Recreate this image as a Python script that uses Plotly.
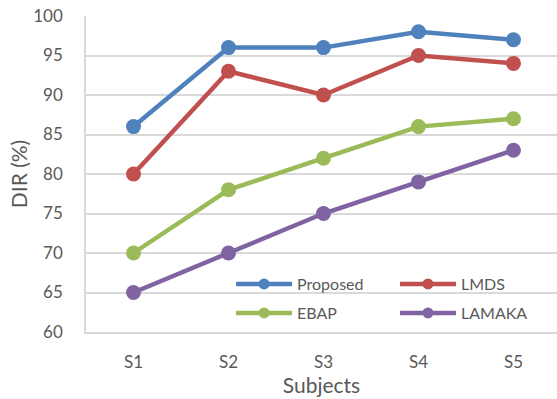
import plotly.graph_objects as go

subjects = ["S1", "S2", "S3", "S4", "S5"]
proposed = [86, 96, 96, 98, 97]
lmds = [80, 93, 90, 95, 94]
ebap = [70, 78, 82, 86, 87]
lamaka = [65, 70, 75, 79, 83]
y_ticks = [60, 65, 70, 75, 80, 85, 90, 95, 100]

# one legend box per entry so the 2x2 key sits exactly where wanted
series = [
    ("Proposed", proposed, "#4F81BD", "legend", 0.308, 284),
    ("LMDS", lmds, "#C0504D", "legend2", 0.656, 284),
    ("EBAP", ebap, "#9BBB59", "legend3", 0.308, 313),
    ("LAMAKA", lamaka, "#8064A2", "legend4", 0.656, 313),
]

font_family = "Lato, 'Open Sans', sans-serif"
text_color = "#595959"
grid_color = "#D9D9D9"

plot_top, plot_bottom = 16, 332

fig = go.Figure()
legends = {}
for name, vals, color, leg, lx, ly in series:
    fig.add_trace(go.Scatter(
        x=subjects, y=vals, name=name, mode="lines+markers",
        line=dict(color=color, width=4.5),
        marker=dict(color=color, size=15, symbol="circle"),
        showlegend=False, legendgroup=name,
    ))
    # key entry with a smaller marker than the plotted points
    fig.add_trace(go.Scatter(
        x=[None], y=[None], name=name, mode="lines+markers",
        line=dict(color=color, width=4.5),
        marker=dict(color=color, size=11, symbol="circle"),
        legend=leg, legendgroup=name, hoverinfo="skip",
    ))
    legends[leg] = dict(
        x=lx, y=(plot_bottom - ly) / (plot_bottom - plot_top),
        xanchor="left", yanchor="middle",
        orientation="h", itemwidth=56,
        font=dict(size=16, color=text_color),
        bgcolor="rgba(0,0,0,0)",
    )

fig.update_layout(
    width=557, height=399,
    margin=dict(l=86, r=0, t=plot_top, b=399 - plot_bottom),
    paper_bgcolor="white", plot_bgcolor="white",
    font=dict(family=font_family, color=text_color, size=17),
    showlegend=True,
    **legends,
)
fig.update_xaxes(
    type="category", range=[-0.5, 4.458],
    showgrid=False, showline=True, linecolor=grid_color, linewidth=1.5,
    ticks="", ticklabelstandoff=14,
    tickfont=dict(size=17, color=text_color),
    title=dict(text="Subjects", font=dict(size=21, color=text_color), standoff=6),
)
fig.update_yaxes(
    range=[60, 100], tickvals=y_ticks,
    showgrid=True, gridcolor=grid_color, gridwidth=1.5,
    showline=True, linecolor=grid_color, linewidth=1.5,
    zeroline=False, ticks="", ticklabelstandoff=18,
    tickfont=dict(size=17, color=text_color),
    title=dict(text="DIR (%)", font=dict(size=21, color=text_color), standoff=0),
)

fig.write_html("out.html")
